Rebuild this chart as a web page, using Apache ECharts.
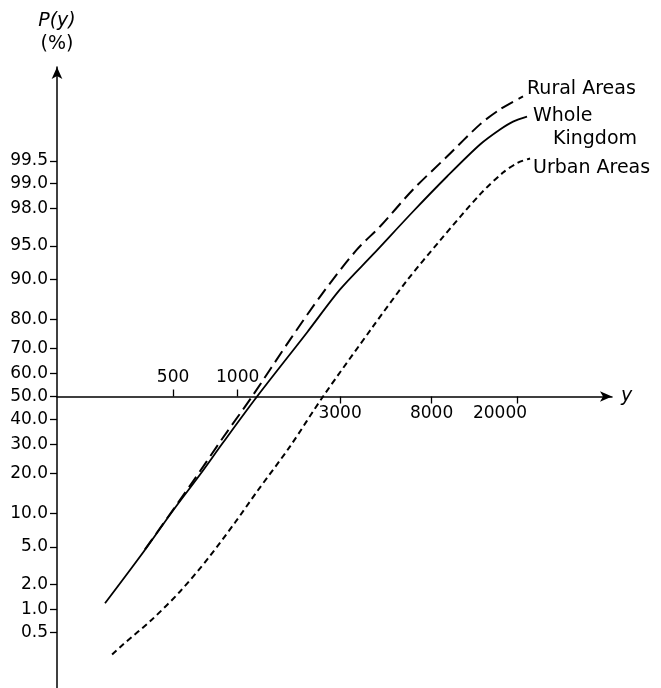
<!DOCTYPE html>
<html>
<head>
<meta charset="utf-8">
<script src="https://cdn.jsdelivr.net/npm/echarts@6/dist/echarts.min.js"></script>
<style>html,body{margin:0;padding:0;background:#fff;}#chart{width:661px;height:688px;}</style>
</head>
<body>
<div id="chart"></div>
<script>
// ---- data (income y, cumulative percent P(y)) ----
const ruralIncome = [370, 600, 855, 1167, 1754, 2498, 3597, 4603, 6561, 9441, 13450, 16670, 21330];
const ruralP      = [4.73, 16.5, 32.7, 50.0, 73.3, 87.2, 94.6, 96.84, 98.815, 99.564, 99.853, 99.915, 99.948];

const wholeIncome = [241, 351, 500, 668, 855, 1231, 2104, 2999, 4271, 6561, 9441, 13450, 16670, 19170, 22270];
const wholeP      = [1.19, 4.01, 10.64, 19.7, 30.75, 50.0, 75.8, 87.9, 93.97, 97.84, 99.19, 99.706, 99.824, 99.867, 99.889];

const urbanIncome = [260, 289, 399, 539, 728, 972, 1231, 1754, 2498, 4271, 6150, 8762, 13450, 17220, 20220, 23000];
const urbanP      = [0.240, 0.325, 0.740, 1.654, 3.84, 8.42, 14.96, 29.3, 50.0, 77.8, 89.76, 95.59, 98.64, 99.28, 99.47, 99.535];

const yTickLabels = ['0.5', '1.0', '2.0', '5.0', '10.0', '20.0', '30.0', '40.0', '50.0', '60.0', '70.0', '80.0', '90.0', '95.0', '98.0', '99.0', '99.5'];
const xTicksAbove = [500, 1000];
const xTicksBelow = [3000, 8000, 20000];

const seriesNames = ['Rural Areas', 'Whole Kingdom', 'Urban Areas'];

// ---- probability (normal probit) scale transform ----
function probit(p) {
  const a = [-3.969683028665376e+01, 2.209460984245205e+02, -2.759285104469687e+02, 1.383577518672690e+02, -3.066479806614716e+01, 2.506628277459239e+00];
  const b = [-5.447609879822406e+01, 1.615858368580409e+02, -1.556989798598866e+02, 6.680131106721616e+01, -1.328068155288572e+01];
  const c = [-7.784894002430293e-03, -3.223964580411365e-01, -2.400758276161262e+00, -2.549671010050524e+00, 4.374664141464968e+00, 2.938163982698783e+00];
  const d = [7.784695709041462e-03, 3.224671290700398e-01, 2.445134137142996e+00, 3.754408661907416e+00];
  const pl = 0.02425, ph = 1 - pl;
  let q, r;
  if (p < pl) {
    q = Math.sqrt(-2 * Math.log(p));
    return (((((c[0]*q+c[1])*q+c[2])*q+c[3])*q+c[4])*q+c[5]) / ((((d[0]*q+d[1])*q+d[2])*q+d[3])*q+1);
  }
  if (p <= ph) {
    q = p - 0.5; r = q * q;
    return (((((a[0]*r+a[1])*r+a[2])*r+a[3])*r+a[4])*r+a[5])*q / (((((b[0]*r+b[1])*r+b[2])*r+b[3])*r+b[4])*r+1);
  }
  q = Math.sqrt(-2 * Math.log(1 - p));
  return -(((((c[0]*q+c[1])*q+c[2])*q+c[3])*q+c[4])*q+c[5]) / ((((d[0]*q+d[1])*q+d[2])*q+d[3])*q+1);
}
const toZ = pct => probit(pct / 100);
const yTickZ = yTickLabels.map(s => toZ(parseFloat(s)));
const pairs = (xs, ps) => xs.map((x, i) => [x, toZ(ps[i])]);

const FONT = 'DejaVu Sans';
const chart = echarts.init(document.getElementById('chart'), null, {renderer: 'canvas'});

const xMin = 144, xMax = 55400;
const yMin = -3.186, yMax = 3.601;

const baseX = {
  type: 'log', logBase: 10, min: xMin, max: xMax,
  splitLine: {show: false}, minorTick: {show: false}, minorSplitLine: {show: false}
};
const tickText = {color: '#000', fontSize: 17, fontFamily: FONT};

const option = {
  animation: false,
  backgroundColor: '#ffffff',
  grid: {left: 57, right: 49, top: 67, bottom: 0, containLabel: false, outerBoundsMode: 'none'},
  xAxis: [
    Object.assign({}, baseX, {
      position: 'bottom', offset: -291.5,
      axisLine: {show: true, onZero: false, symbol: ['none', 'arrow'], symbolSize: [8, 12], lineStyle: {color: '#000', width: 1.5}},
      axisTick: {show: true, customValues: xTicksBelow, length: 7, lineStyle: {color: '#000', width: 1.3}},
      axisLabel: Object.assign({show: true, customValues: xTicksBelow, margin: 9,
        formatter: v => {
          const s = String(Math.round(v));
          return Math.round(v) === 20000 ? '{s|' + s + '}' : s;
        },
        rich: {s: Object.assign({padding: [0, 34, 0, 0]}, tickText)}}, tickText),
      name: 'y', nameLocation: 'end', nameGap: 9,
      nameTextStyle: {color: '#000', fontSize: 19, fontStyle: 'italic', fontFamily: FONT, verticalAlign: 'middle'}
    }),
    Object.assign({}, baseX, {
      position: 'top', offset: -329.5,
      axisLine: {show: false, onZero: false},
      axisTick: {show: true, customValues: xTicksAbove, length: 7, lineStyle: {color: '#000', width: 1.3}},
      axisLabel: Object.assign({show: true, customValues: xTicksAbove, margin: 10,
        formatter: v => String(Math.round(v))}, tickText)
    })
  ],
  yAxis: {
    type: 'value', min: yMin, max: yMax, position: 'left',
    splitLine: {show: false},
    axisLine: {show: true, onZero: false, symbol: ['none', 'arrow'], symbolSize: [8, 12], lineStyle: {color: '#000', width: 1.5}},
    axisTick: {show: true, customValues: yTickZ, length: 7, lineStyle: {color: '#000', width: 1.3}},
    axisLabel: Object.assign({show: true, customValues: yTickZ, margin: 9,
      formatter: v => {
        let best = 0, bd = Infinity;
        yTickZ.forEach((z, i) => { const dd = Math.abs(z - v); if (dd < bd) { bd = dd; best = i; } });
        return yTickLabels[best];
      }}, tickText),
    name: '{i|P(y)}\n{n|(%)}', nameLocation: 'end', nameGap: 11,
    nameTextStyle: {
      align: 'center', color: '#000',
      rich: {
        i: {fontStyle: 'italic', fontSize: 19, fontFamily: FONT, color: '#000', lineHeight: 23, align: 'center'},
        n: {fontSize: 19, fontFamily: FONT, color: '#000', lineHeight: 23, align: 'center'}
      }
    }
  },
  series: [
    {
      name: seriesNames[0], type: 'line', xAxisIndex: 0, smooth: 0.3, symbol: 'none',
      data: pairs(ruralIncome, ruralP),
      lineStyle: {color: '#000', width: 2, type: [13, 6]},
      endLabel: {show: true, formatter: 'Rural Areas', color: '#000', fontSize: 19, fontFamily: FONT, distance: 4, offset: [0, -7]}
    },
    {
      name: seriesNames[1], type: 'line', xAxisIndex: 0, smooth: 0.3, symbol: 'none',
      data: pairs(wholeIncome, wholeP),
      lineStyle: {color: '#000', width: 1.8, type: 'solid'},
      endLabel: {show: true, formatter: '{a|Whole}\n{b|Kingdom}', distance: 6, offset: [0, 11],
        rich: {
          a: {color: '#000', fontSize: 19, fontFamily: FONT, lineHeight: 23},
          b: {color: '#000', fontSize: 19, fontFamily: FONT, lineHeight: 23, padding: [0, 0, 0, 20]}
        }}
    },
    {
      name: seriesNames[2], type: 'line', xAxisIndex: 0, smooth: 0.3, symbol: 'none',
      data: pairs(urbanIncome, urbanP),
      lineStyle: {color: '#000', width: 2, type: [6, 4]},
      endLabel: {show: true, formatter: 'Urban Areas', color: '#000', fontSize: 19, fontFamily: FONT, distance: 3, offset: [0, 10]}
    }
  ]
};
chart.setOption(option);
</script>
</body>
</html>
